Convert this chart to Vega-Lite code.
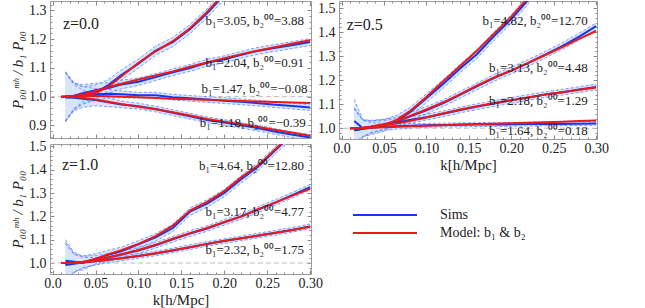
{
  "$schema": "https://vega.github.io/schema/vega-lite/v6.json",
  "background": "white",
  "padding": {"left": 10, "top": 0, "right": 0, "bottom": 0},
  "columns": 2,
  "bounds": "flush",
  "spacing": {"row": 5, "column": 28},
  "config": {
    "view": {"stroke": "#9c9c9c", "strokeWidth": 1},
    "axis": {"labelFont": "Liberation Serif", "labelFontSize": 14, "labelColor": "#222", "titleFont": "Liberation Serif", "titleFontSize": 15, "titleFontWeight": "normal", "titleColor": "#222", "grid": false, "domain": false, "tickColor": "#8a8a8a", "tickSize": -4, "labelPadding": 8, "labelOverlap": false, "labelFlush": false},
    "axisX": {"labelPadding": 6, "titlePadding": 2},
    "legend": {"symbolType": "stroke", "symbolSize": 4096, "symbolStrokeWidth": 2, "clipHeight": 18, "rowPadding": 0, "labelOffset": 22, "labelFont": "Liberation Serif", "labelFontSize": 14, "labelColor": "#222", "padding": 0},
    "text": {"font": "Liberation Serif"}
  },
  "datasets": {
    "curves": [
      {"p":"a","c":1,"k":0.01,"m":1.0},
      {"p":"a","c":1,"k":0.015,"s":0.998,"e":0.085,"m":1.0},
      {"p":"a","c":1,"k":0.025,"s":1.0,"e":0.045,"m":1.001},
      {"p":"a","c":1,"k":0.035,"s":1.004,"e":0.03,"m":1.004},
      {"p":"a","c":1,"k":0.05,"s":1.015,"e":0.025,"m":1.012},
      {"p":"a","c":1,"k":0.065,"s":1.04,"e":0.02,"m":1.035},
      {"p":"a","c":1,"k":0.08,"s":1.075,"e":0.018,"m":1.07},
      {"p":"a","c":1,"k":0.1,"s":1.115,"e":0.016,"m":1.118},
      {"p":"a","c":1,"k":0.12,"s":1.16,"e":0.016,"m":1.158},
      {"p":"a","c":1,"k":0.14,"s":1.19,"e":0.016,"m":1.193},
      {"p":"a","c":1,"k":0.16,"s":1.235,"e":0.016,"m":1.238},
      {"p":"a","c":1,"k":0.18,"s":1.29,"e":0.016,"m":1.295},
      {"p":"a","c":1,"k":0.2,"s":1.355,"e":0.016,"m":1.36},
      {"p":"a","c":1,"k":0.22,"s":1.425,"e":0.016,"m":1.43},

      {"p":"a","c":2,"k":0.01,"m":1.0},
      {"p":"a","c":2,"k":0.015,"s":1.0,"e":0.085,"m":1.0},
      {"p":"a","c":2,"k":0.025,"s":1.003,"e":0.045,"m":1.002},
      {"p":"a","c":2,"k":0.035,"s":1.012,"e":0.03,"m":1.008},
      {"p":"a","c":2,"k":0.05,"s":1.022,"e":0.025,"m":1.02},
      {"p":"a","c":2,"k":0.065,"s":1.03,"e":0.018,"m":1.033},
      {"p":"a","c":2,"k":0.08,"s":1.042,"e":0.015,"m":1.045},
      {"p":"a","c":2,"k":0.1,"s":1.052,"e":0.013,"m":1.06},
      {"p":"a","c":2,"k":0.12,"s":1.068,"e":0.012,"m":1.074},
      {"p":"a","c":2,"k":0.14,"s":1.085,"e":0.012,"m":1.088},
      {"p":"a","c":2,"k":0.16,"s":1.1,"e":0.012,"m":1.104},
      {"p":"a","c":2,"k":0.18,"s":1.118,"e":0.012,"m":1.119},
      {"p":"a","c":2,"k":0.2,"s":1.13,"e":0.012,"m":1.134},
      {"p":"a","c":2,"k":0.22,"s":1.146,"e":0.012,"m":1.148},
      {"p":"a","c":2,"k":0.24,"s":1.16,"e":0.012,"m":1.161},
      {"p":"a","c":2,"k":0.26,"s":1.17,"e":0.012,"m":1.173},
      {"p":"a","c":2,"k":0.28,"s":1.18,"e":0.012,"m":1.185},
      {"p":"a","c":2,"k":0.3,"s":1.19,"e":0.012,"m":1.196},

      {"p":"a","c":3,"k":0.01,"m":1.0},
      {"p":"a","c":3,"k":0.015,"s":1.002,"e":0.085,"m":1.0},
      {"p":"a","c":3,"k":0.025,"s":1.003,"e":0.045,"m":1.001},
      {"p":"a","c":3,"k":0.035,"s":1.005,"e":0.03,"m":1.002},
      {"p":"a","c":3,"k":0.05,"s":1.008,"e":0.02,"m":1.002},
      {"p":"a","c":3,"k":0.065,"s":1.01,"e":0.015,"m":1.001},
      {"p":"a","c":3,"k":0.08,"s":1.008,"e":0.012,"m":1.0},
      {"p":"a","c":3,"k":0.1,"s":1.005,"e":0.01,"m":0.998},
      {"p":"a","c":3,"k":0.12,"s":1.005,"e":0.01,"m":0.995},
      {"p":"a","c":3,"k":0.14,"s":0.998,"e":0.01,"m":0.993},
      {"p":"a","c":3,"k":0.16,"s":0.994,"e":0.01,"m":0.991},
      {"p":"a","c":3,"k":0.18,"s":0.99,"e":0.01,"m":0.989},
      {"p":"a","c":3,"k":0.2,"s":0.986,"e":0.01,"m":0.987},
      {"p":"a","c":3,"k":0.22,"s":0.982,"e":0.01,"m":0.985},
      {"p":"a","c":3,"k":0.24,"s":0.977,"e":0.01,"m":0.983},
      {"p":"a","c":3,"k":0.26,"s":0.972,"e":0.01,"m":0.981},
      {"p":"a","c":3,"k":0.28,"s":0.967,"e":0.01,"m":0.98},
      {"p":"a","c":3,"k":0.3,"s":0.962,"e":0.01,"m":0.978},

      {"p":"a","c":4,"k":0.01,"m":1.0},
      {"p":"a","c":4,"k":0.015,"s":0.997,"e":0.085,"m":1.0},
      {"p":"a","c":4,"k":0.025,"s":0.996,"e":0.045,"m":0.999},
      {"p":"a","c":4,"k":0.035,"s":0.993,"e":0.03,"m":0.996},
      {"p":"a","c":4,"k":0.05,"s":0.988,"e":0.02,"m":0.99},
      {"p":"a","c":4,"k":0.065,"s":0.98,"e":0.015,"m":0.982},
      {"p":"a","c":4,"k":0.08,"s":0.973,"e":0.012,"m":0.974},
      {"p":"a","c":4,"k":0.1,"s":0.967,"e":0.01,"m":0.965},
      {"p":"a","c":4,"k":0.12,"s":0.957,"e":0.01,"m":0.956},
      {"p":"a","c":4,"k":0.14,"s":0.944,"e":0.01,"m":0.946},
      {"p":"a","c":4,"k":0.16,"s":0.932,"e":0.01,"m":0.934},
      {"p":"a","c":4,"k":0.18,"s":0.919,"e":0.01,"m":0.922},
      {"p":"a","c":4,"k":0.2,"s":0.91,"e":0.01,"m":0.913},
      {"p":"a","c":4,"k":0.22,"s":0.9,"e":0.01,"m":0.904},
      {"p":"a","c":4,"k":0.24,"s":0.89,"e":0.01,"m":0.894},
      {"p":"a","c":4,"k":0.26,"s":0.878,"e":0.01,"m":0.884},
      {"p":"a","c":4,"k":0.28,"s":0.867,"e":0.01,"m":0.874},
      {"p":"a","c":4,"k":0.3,"s":0.858,"e":0.01,"m":0.864},

      {"p":"b","c":1,"k":0.01,"m":1.0},
      {"p":"b","c":1,"k":0.015,"s":1.03,"e":0.09,"m":1.0},
      {"p":"b","c":1,"k":0.025,"s":1.0,"e":0.035,"m":1.001},
      {"p":"b","c":1,"k":0.035,"s":1.003,"e":0.03,"m":1.005},
      {"p":"b","c":1,"k":0.05,"s":1.012,"e":0.025,"m":1.013},
      {"p":"b","c":1,"k":0.065,"s":1.032,"e":0.022,"m":1.035},
      {"p":"b","c":1,"k":0.08,"s":1.065,"e":0.02,"m":1.07},
      {"p":"b","c":1,"k":0.1,"s":1.125,"e":0.018,"m":1.13},
      {"p":"b","c":1,"k":0.12,"s":1.185,"e":0.018,"m":1.197},
      {"p":"b","c":1,"k":0.14,"s":1.25,"e":0.018,"m":1.26},
      {"p":"b","c":1,"k":0.16,"s":1.31,"e":0.018,"m":1.325},
      {"p":"b","c":1,"k":0.18,"s":1.385,"e":0.018,"m":1.395},
      {"p":"b","c":1,"k":0.2,"s":1.455,"e":0.018,"m":1.465},
      {"p":"b","c":1,"k":0.22,"s":1.535,"e":0.018,"m":1.545},

      {"p":"b","c":2,"k":0.01,"m":1.0},
      {"p":"b","c":2,"k":0.015,"s":0.995,"e":0.09,"m":1.0},
      {"p":"b","c":2,"k":0.025,"s":1.0,"e":0.035,"m":1.002},
      {"p":"b","c":2,"k":0.035,"s":1.006,"e":0.025,"m":1.007},
      {"p":"b","c":2,"k":0.05,"s":1.016,"e":0.02,"m":1.017},
      {"p":"b","c":2,"k":0.065,"s":1.028,"e":0.018,"m":1.03},
      {"p":"b","c":2,"k":0.08,"s":1.048,"e":0.016,"m":1.05},
      {"p":"b","c":2,"k":0.1,"s":1.075,"e":0.015,"m":1.078},
      {"p":"b","c":2,"k":0.12,"s":1.105,"e":0.014,"m":1.108},
      {"p":"b","c":2,"k":0.14,"s":1.14,"e":0.014,"m":1.142},
      {"p":"b","c":2,"k":0.16,"s":1.175,"e":0.014,"m":1.178},
      {"p":"b","c":2,"k":0.18,"s":1.21,"e":0.014,"m":1.212},
      {"p":"b","c":2,"k":0.2,"s":1.24,"e":0.014,"m":1.24},
      {"p":"b","c":2,"k":0.22,"s":1.272,"e":0.014,"m":1.272},
      {"p":"b","c":2,"k":0.24,"s":1.306,"e":0.014,"m":1.305},
      {"p":"b","c":2,"k":0.26,"s":1.342,"e":0.014,"m":1.338},
      {"p":"b","c":2,"k":0.28,"s":1.382,"e":0.014,"m":1.372},
      {"p":"b","c":2,"k":0.3,"s":1.425,"e":0.014,"m":1.405},

      {"p":"b","c":3,"k":0.01,"m":1.0},
      {"p":"b","c":3,"k":0.015,"s":0.99,"e":0.09,"m":1.0},
      {"p":"b","c":3,"k":0.025,"s":0.998,"e":0.035,"m":1.002},
      {"p":"b","c":3,"k":0.035,"s":1.004,"e":0.025,"m":1.005},
      {"p":"b","c":3,"k":0.05,"s":1.014,"e":0.018,"m":1.012},
      {"p":"b","c":3,"k":0.065,"s":1.024,"e":0.015,"m":1.02},
      {"p":"b","c":3,"k":0.08,"s":1.034,"e":0.013,"m":1.03},
      {"p":"b","c":3,"k":0.1,"s":1.046,"e":0.012,"m":1.045},
      {"p":"b","c":3,"k":0.12,"s":1.06,"e":0.012,"m":1.062},
      {"p":"b","c":3,"k":0.14,"s":1.076,"e":0.012,"m":1.078},
      {"p":"b","c":3,"k":0.16,"s":1.09,"e":0.012,"m":1.092},
      {"p":"b","c":3,"k":0.18,"s":1.103,"e":0.012,"m":1.105},
      {"p":"b","c":3,"k":0.2,"s":1.116,"e":0.012,"m":1.117},
      {"p":"b","c":3,"k":0.22,"s":1.128,"e":0.012,"m":1.128},
      {"p":"b","c":3,"k":0.24,"s":1.14,"e":0.012,"m":1.14},
      {"p":"b","c":3,"k":0.26,"s":1.15,"e":0.012,"m":1.15},
      {"p":"b","c":3,"k":0.28,"s":1.161,"e":0.012,"m":1.16},
      {"p":"b","c":3,"k":0.3,"s":1.172,"e":0.012,"m":1.17},

      {"p":"b","c":4,"k":0.01,"m":1.0},
      {"p":"b","c":4,"k":0.015,"s":0.992,"e":0.09,"m":1.0},
      {"p":"b","c":4,"k":0.025,"s":0.998,"e":0.035,"m":1.001},
      {"p":"b","c":4,"k":0.035,"s":1.002,"e":0.02,"m":1.002},
      {"p":"b","c":4,"k":0.05,"s":1.006,"e":0.015,"m":1.004},
      {"p":"b","c":4,"k":0.065,"s":1.008,"e":0.012,"m":1.006},
      {"p":"b","c":4,"k":0.08,"s":1.01,"e":0.01,"m":1.008},
      {"p":"b","c":4,"k":0.1,"s":1.012,"e":0.008,"m":1.01},
      {"p":"b","c":4,"k":0.12,"s":1.013,"e":0.008,"m":1.012},
      {"p":"b","c":4,"k":0.14,"s":1.014,"e":0.008,"m":1.015},
      {"p":"b","c":4,"k":0.16,"s":1.015,"e":0.008,"m":1.017},
      {"p":"b","c":4,"k":0.18,"s":1.015,"e":0.008,"m":1.019},
      {"p":"b","c":4,"k":0.2,"s":1.016,"e":0.008,"m":1.021},
      {"p":"b","c":4,"k":0.22,"s":1.017,"e":0.008,"m":1.023},
      {"p":"b","c":4,"k":0.24,"s":1.018,"e":0.008,"m":1.025},
      {"p":"b","c":4,"k":0.26,"s":1.018,"e":0.008,"m":1.027},
      {"p":"b","c":4,"k":0.28,"s":1.019,"e":0.008,"m":1.03},
      {"p":"b","c":4,"k":0.3,"s":1.02,"e":0.008,"m":1.032},

      {"p":"c","c":1,"k":0.01,"m":1.0},
      {"p":"c","c":1,"k":0.015,"s":1.01,"e":0.09,"m":1.0},
      {"p":"c","c":1,"k":0.025,"s":1.005,"e":0.04,"m":1.0},
      {"p":"c","c":1,"k":0.035,"s":1.0,"e":0.03,"m":1.003},
      {"p":"c","c":1,"k":0.05,"s":1.018,"e":0.022,"m":1.018},
      {"p":"c","c":1,"k":0.065,"s":1.035,"e":0.02,"m":1.038},
      {"p":"c","c":1,"k":0.08,"s":1.05,"e":0.018,"m":1.055},
      {"p":"c","c":1,"k":0.1,"s":1.08,"e":0.016,"m":1.082},
      {"p":"c","c":1,"k":0.12,"s":1.11,"e":0.016,"m":1.115},
      {"p":"c","c":1,"k":0.14,"s":1.15,"e":0.016,"m":1.16},
      {"p":"c","c":1,"k":0.16,"s":1.22,"e":0.016,"m":1.225},
      {"p":"c","c":1,"k":0.18,"s":1.255,"e":0.016,"m":1.262},
      {"p":"c","c":1,"k":0.2,"s":1.3,"e":0.016,"m":1.308},
      {"p":"c","c":1,"k":0.22,"s":1.36,"e":0.016,"m":1.368},
      {"p":"c","c":1,"k":0.24,"s":1.415,"e":0.016,"m":1.42},
      {"p":"c","c":1,"k":0.26,"s":1.485,"e":0.016,"m":1.49},
      {"p":"c","c":1,"k":0.28,"s":1.555,"e":0.016,"m":1.56},

      {"p":"c","c":2,"k":0.01,"m":1.0},
      {"p":"c","c":2,"k":0.015,"s":0.998,"e":0.09,"m":1.0},
      {"p":"c","c":2,"k":0.025,"s":1.0,"e":0.04,"m":1.001},
      {"p":"c","c":2,"k":0.035,"s":1.004,"e":0.025,"m":1.004},
      {"p":"c","c":2,"k":0.05,"s":1.012,"e":0.02,"m":1.012},
      {"p":"c","c":2,"k":0.065,"s":1.024,"e":0.016,"m":1.025},
      {"p":"c","c":2,"k":0.08,"s":1.036,"e":0.014,"m":1.038},
      {"p":"c","c":2,"k":0.1,"s":1.054,"e":0.013,"m":1.056},
      {"p":"c","c":2,"k":0.12,"s":1.076,"e":0.012,"m":1.078},
      {"p":"c","c":2,"k":0.14,"s":1.102,"e":0.012,"m":1.104},
      {"p":"c","c":2,"k":0.16,"s":1.126,"e":0.012,"m":1.128},
      {"p":"c","c":2,"k":0.18,"s":1.148,"e":0.012,"m":1.15},
      {"p":"c","c":2,"k":0.2,"s":1.174,"e":0.012,"m":1.176},
      {"p":"c","c":2,"k":0.22,"s":1.2,"e":0.012,"m":1.2},
      {"p":"c","c":2,"k":0.24,"s":1.23,"e":0.012,"m":1.232},
      {"p":"c","c":2,"k":0.26,"s":1.26,"e":0.012,"m":1.26},
      {"p":"c","c":2,"k":0.28,"s":1.292,"e":0.012,"m":1.29},
      {"p":"c","c":2,"k":0.3,"s":1.325,"e":0.012,"m":1.318},

      {"p":"c","c":3,"k":0.01,"m":1.0},
      {"p":"c","c":3,"k":0.015,"s":0.992,"e":0.09,"m":1.0},
      {"p":"c","c":3,"k":0.025,"s":0.997,"e":0.04,"m":1.0},
      {"p":"c","c":3,"k":0.035,"s":1.002,"e":0.022,"m":1.003},
      {"p":"c","c":3,"k":0.05,"s":1.008,"e":0.016,"m":1.008},
      {"p":"c","c":3,"k":0.065,"s":1.014,"e":0.013,"m":1.014},
      {"p":"c","c":3,"k":0.08,"s":1.02,"e":0.011,"m":1.02},
      {"p":"c","c":3,"k":0.1,"s":1.03,"e":0.01,"m":1.03},
      {"p":"c","c":3,"k":0.12,"s":1.041,"e":0.01,"m":1.042},
      {"p":"c","c":3,"k":0.14,"s":1.054,"e":0.01,"m":1.055},
      {"p":"c","c":3,"k":0.16,"s":1.068,"e":0.01,"m":1.068},
      {"p":"c","c":3,"k":0.18,"s":1.082,"e":0.01,"m":1.082},
      {"p":"c","c":3,"k":0.2,"s":1.094,"e":0.01,"m":1.095},
      {"p":"c","c":3,"k":0.22,"s":1.106,"e":0.01,"m":1.106},
      {"p":"c","c":3,"k":0.24,"s":1.118,"e":0.01,"m":1.118},
      {"p":"c","c":3,"k":0.26,"s":1.13,"e":0.01,"m":1.13},
      {"p":"c","c":3,"k":0.28,"s":1.143,"e":0.01,"m":1.142},
      {"p":"c","c":3,"k":0.3,"s":1.157,"e":0.01,"m":1.155}
    ],
    "labels": [
      {"p":"a","k":0.293,"v":1.263,"t":"b₁=3.05,  b₂⁰⁰=3.88"},
      {"p":"a","k":0.293,"v":1.117,"t":"b₁=2.04,  b₂⁰⁰=0.91"},
      {"p":"a","k":0.297,"v":1.027,"t":"b₁=1.47,  b₂⁰⁰=−0.08"},
      {"p":"a","k":0.295,"v":0.909,"t":"b₁=1.18,  b₂⁰⁰=−0.39"},
      {"p":"b","k":0.29,"v":1.446,"t":"b₁=4.82,  b₂⁰⁰=12.70"},
      {"p":"b","k":0.29,"v":1.25,"t":"b₁=3.13,  b₂⁰⁰=4.48"},
      {"p":"b","k":0.29,"v":1.1125,"t":"b₁=2.18,  b₂⁰⁰=1.29"},
      {"p":"b","k":0.29,"v":0.9875,"t":"b₁=1.64,  b₂⁰⁰=0.18"},
      {"p":"c","k":0.293,"v":1.415,"t":"b₁=4.64,  b₂⁰⁰=12.80"},
      {"p":"c","k":0.293,"v":1.22,"t":"b₁=3.17,  b₂⁰⁰=4.77"},
      {"p":"c","k":0.293,"v":1.057,"t":"b₁=2.32,  b₂⁰⁰=1.75"}
    ],
    "ztitles": [
      {"p":"a","k":0.012,"v":1.252,"t":"z=0.0"},
      {"p":"b","k":0.006,"v":1.432,"t":"z=0.5"},
      {"p":"c","k":0.011,"v":1.418,"t":"z=1.0"}
    ]
  },
  "concat": [
    {
      "width": 261, "height": 137,
      "resolve": {"axis": {"x": "independent", "y": "independent"}},
      "layer": [
        {"data": {"values": [{}]}, "mark": {"type": "rule", "color": "#bdbdbd", "strokeDash": [5, 3], "strokeWidth": 1}, "encoding": {"y": {"datum": 1, "type": "quantitative", "axis": null}}},
        {"data": {"name": "curves"}, "transform": [{"filter": "datum.p == 'a' && isValid(datum.s)"}],
         "mark": {"type": "errorband", "clip": true, "band": {"color": "#d8e5f9", "opacity": 1}, "borders": {"color": "#6482ff", "strokeDash": [3, 2], "strokeWidth": 0.8}},
         "encoding": {
           "x": {"field": "k", "type": "quantitative", "scale": {"domain": [-0.003, 0.301], "nice": false, "zero": false}, "axis": {"orient": "bottom", "values": [0, 0.05, 0.1, 0.15, 0.2, 0.25, 0.3], "labels": false, "title": null}},
           "y": {"field": "s", "type": "quantitative", "scale": {"domain": [0.856, 1.333], "nice": false, "zero": false}, "axis": {"orient": "left", "values": [0.9, 1.0, 1.1, 1.2, 1.3], "format": ".1f", "title": "P₀₀ᵐʰ / b₁ P₀₀", "titleFontStyle": "italic", "titlePadding": 3}},
           "yError": {"field": "e"},
           "detail": {"field": "c", "type": "nominal"}
         }},
        {"data": {"name": "curves"}, "transform": [{"filter": "datum.p == 'a' && isValid(datum.s)"}],
         "mark": {"type": "line", "clip": true, "strokeWidth": 2},
         "encoding": {
           "x": {"field": "k", "type": "quantitative", "axis": {"orient": "bottom", "values": [0.01,0.02,0.03,0.04,0.06,0.07,0.08,0.09,0.11,0.12,0.13,0.14,0.16,0.17,0.18,0.19,0.21,0.22,0.23,0.24,0.26,0.27,0.28,0.29], "labels": false, "title": null, "tickSize": -2}},
           "y": {"field": "s", "type": "quantitative", "axis": {"orient": "left", "values": [0.86,0.88,0.92,0.94,0.96,0.98,1.02,1.04,1.06,1.08,1.12,1.14,1.16,1.18,1.22,1.24,1.26,1.28,1.32], "labels": false, "title": null, "tickSize": -2}},
           "detail": {"field": "c", "type": "nominal"},
           "color": {"datum": "Sims", "type": "nominal", "scale": {"domain": ["Sims", "Model: b₁ & b₂"], "range": ["#1438ee", "#ea1a1a"]}, "legend": {"orient": "none", "legendX": 302, "legendY": 205, "title": null}}
         }},
        {"data": {"name": "curves"}, "transform": [{"filter": "datum.p == 'a'"}],
         "mark": {"type": "line", "clip": true, "strokeWidth": 2},
         "encoding": {
           "x": {"field": "k", "type": "quantitative", "axis": {"orient": "top", "values": [0, 0.05, 0.1, 0.15, 0.2, 0.25, 0.3], "labels": false, "title": null}},
           "y": {"field": "m", "type": "quantitative", "axis": {"orient": "right", "values": [0.9, 1.0, 1.1, 1.2, 1.3], "labels": false, "title": null}},
           "detail": {"field": "c", "type": "nominal"},
           "color": {"datum": "Model: b₁ & b₂", "type": "nominal", "legend": {"orient": "none", "legendX": 302, "legendY": 205, "title": null}}
         }},
        {"data": {"name": "labels"}, "transform": [{"filter": "datum.p == 'a'"}],
         "mark": {"type": "text", "align": "right", "baseline": "middle", "fontSize": 13, "color": "#222"},
         "encoding": {
           "x": {"field": "k", "type": "quantitative", "axis": {"orient": "top", "values": [0.01,0.02,0.03,0.04,0.06,0.07,0.08,0.09,0.11,0.12,0.13,0.14,0.16,0.17,0.18,0.19,0.21,0.22,0.23,0.24,0.26,0.27,0.28,0.29], "labels": false, "title": null, "tickSize": -2}},
           "y": {"field": "v", "type": "quantitative", "axis": {"orient": "right", "values": [0.86,0.88,0.92,0.94,0.96,0.98,1.02,1.04,1.06,1.08,1.12,1.14,1.16,1.18,1.22,1.24,1.26,1.28,1.32], "labels": false, "title": null, "tickSize": -2}},
           "text": {"field": "t"}}},
        {"data": {"name": "ztitles"}, "transform": [{"filter": "datum.p == 'a'"}],
         "mark": {"type": "text", "align": "left", "baseline": "middle", "fontSize": 16, "color": "#222"},
         "encoding": {"x": {"field": "k", "type": "quantitative", "axis": null}, "y": {"field": "v", "type": "quantitative", "axis": null}, "text": {"field": "t"}}}
      ]
    },
    {
      "width": 258, "height": 138,
      "resolve": {"axis": {"x": "independent", "y": "independent"}},
      "layer": [
        {"data": {"values": [{}]}, "mark": {"type": "rule", "color": "#bdbdbd", "strokeDash": [5, 3], "strokeWidth": 1}, "encoding": {"y": {"datum": 1, "type": "quantitative", "axis": null}}},
        {"data": {"name": "curves"}, "transform": [{"filter": "datum.p == 'b' && isValid(datum.s)"}],
         "mark": {"type": "errorband", "clip": true, "band": {"color": "#d8e5f9", "opacity": 1}, "borders": {"color": "#6482ff", "strokeDash": [3, 2], "strokeWidth": 0.8}},
         "encoding": {
           "x": {"field": "k", "type": "quantitative", "scale": {"domain": [-0.003, 0.301], "nice": false, "zero": false}, "axis": {"orient": "bottom", "values": [0, 0.05, 0.1, 0.15, 0.2, 0.25, 0.3], "labelExpr": "datum.value == 0 ? '0.0' : format(datum.value, '.2f')", "title": "k[h/Mpc]"}},
           "y": {"field": "s", "type": "quantitative", "scale": {"domain": [0.955, 1.53], "nice": false, "zero": false}, "axis": {"orient": "left", "values": [1.0, 1.1, 1.2, 1.3, 1.4, 1.5], "format": ".1f", "title": null}},
           "yError": {"field": "e"},
           "detail": {"field": "c", "type": "nominal"}
         }},
        {"data": {"name": "curves"}, "transform": [{"filter": "datum.p == 'b' && isValid(datum.s)"}],
         "mark": {"type": "line", "clip": true, "strokeWidth": 2},
         "encoding": {
           "x": {"field": "k", "type": "quantitative", "axis": {"orient": "bottom", "values": [0.01,0.02,0.03,0.04,0.06,0.07,0.08,0.09,0.11,0.12,0.13,0.14,0.16,0.17,0.18,0.19,0.21,0.22,0.23,0.24,0.26,0.27,0.28,0.29], "labels": false, "title": null, "tickSize": -2}},
           "y": {"field": "s", "type": "quantitative", "axis": {"orient": "left", "values": [0.96,0.98,1.02,1.04,1.06,1.08,1.12,1.14,1.16,1.18,1.22,1.24,1.26,1.28,1.32,1.34,1.36,1.38,1.42,1.44,1.46,1.48,1.52], "labels": false, "title": null, "tickSize": -2}},
           "detail": {"field": "c", "type": "nominal"},
           "color": {"datum": "Sims", "type": "nominal", "legend": {"orient": "none", "legendX": 302, "legendY": 205, "title": null}}
         }},
        {"data": {"name": "curves"}, "transform": [{"filter": "datum.p == 'b'"}],
         "mark": {"type": "line", "clip": true, "strokeWidth": 2},
         "encoding": {
           "x": {"field": "k", "type": "quantitative", "axis": {"orient": "top", "values": [0, 0.05, 0.1, 0.15, 0.2, 0.25, 0.3], "labels": false, "title": null}},
           "y": {"field": "m", "type": "quantitative", "axis": {"orient": "right", "values": [1.0, 1.1, 1.2, 1.3, 1.4, 1.5], "labels": false, "title": null}},
           "detail": {"field": "c", "type": "nominal"},
           "color": {"datum": "Model: b₁ & b₂", "type": "nominal", "legend": {"orient": "none", "legendX": 302, "legendY": 205, "title": null}}
         }},
        {"data": {"name": "labels"}, "transform": [{"filter": "datum.p == 'b'"}],
         "mark": {"type": "text", "align": "right", "baseline": "middle", "fontSize": 13, "color": "#222"},
         "encoding": {
           "x": {"field": "k", "type": "quantitative", "axis": {"orient": "top", "values": [0.01,0.02,0.03,0.04,0.06,0.07,0.08,0.09,0.11,0.12,0.13,0.14,0.16,0.17,0.18,0.19,0.21,0.22,0.23,0.24,0.26,0.27,0.28,0.29], "labels": false, "title": null, "tickSize": -2}},
           "y": {"field": "v", "type": "quantitative", "axis": {"orient": "right", "values": [0.96,0.98,1.02,1.04,1.06,1.08,1.12,1.14,1.16,1.18,1.22,1.24,1.26,1.28,1.32,1.34,1.36,1.38,1.42,1.44,1.46,1.48,1.52], "labels": false, "title": null, "tickSize": -2}},
           "text": {"field": "t"}}},
        {"data": {"name": "ztitles"}, "transform": [{"filter": "datum.p == 'b'"}],
         "mark": {"type": "text", "align": "left", "baseline": "middle", "fontSize": 16, "color": "#222"},
         "encoding": {"x": {"field": "k", "type": "quantitative", "axis": null}, "y": {"field": "v", "type": "quantitative", "axis": null}, "text": {"field": "t"}}}
      ]
    },
    {
      "width": 261, "height": 130,
      "resolve": {"axis": {"x": "independent", "y": "independent"}},
      "layer": [
        {"data": {"values": [{}]}, "mark": {"type": "rule", "color": "#bdbdbd", "strokeDash": [5, 3], "strokeWidth": 1}, "encoding": {"y": {"datum": 1, "type": "quantitative", "axis": null}}},
        {"data": {"name": "curves"}, "transform": [{"filter": "datum.p == 'c' && isValid(datum.s)"}],
         "mark": {"type": "errorband", "clip": true, "band": {"color": "#d8e5f9", "opacity": 1}, "borders": {"color": "#6482ff", "strokeDash": [3, 2], "strokeWidth": 0.8}},
         "encoding": {
           "x": {"field": "k", "type": "quantitative", "scale": {"domain": [-0.003, 0.301], "nice": false, "zero": false}, "axis": {"orient": "bottom", "values": [0, 0.05, 0.1, 0.15, 0.2, 0.25, 0.3], "labelExpr": "datum.value == 0 ? '0.0' : format(datum.value, '.2f')", "title": "k[h/Mpc]"}},
           "y": {"field": "s", "type": "quantitative", "scale": {"domain": [0.953, 1.51], "nice": false, "zero": false}, "axis": {"orient": "left", "values": [1.0, 1.1, 1.2, 1.3, 1.4, 1.5], "format": ".1f", "title": "P₀₀ᵐʰ / b₁ P₀₀", "titleFontStyle": "italic", "titlePadding": 3}},
           "yError": {"field": "e"},
           "detail": {"field": "c", "type": "nominal"}
         }},
        {"data": {"name": "curves"}, "transform": [{"filter": "datum.p == 'c' && isValid(datum.s)"}],
         "mark": {"type": "line", "clip": true, "strokeWidth": 2},
         "encoding": {
           "x": {"field": "k", "type": "quantitative", "axis": {"orient": "bottom", "values": [0.01,0.02,0.03,0.04,0.06,0.07,0.08,0.09,0.11,0.12,0.13,0.14,0.16,0.17,0.18,0.19,0.21,0.22,0.23,0.24,0.26,0.27,0.28,0.29], "labels": false, "title": null, "tickSize": -2}},
           "y": {"field": "s", "type": "quantitative", "axis": {"orient": "left", "values": [0.96,0.98,1.02,1.04,1.06,1.08,1.12,1.14,1.16,1.18,1.22,1.24,1.26,1.28,1.32,1.34,1.36,1.38,1.42,1.44,1.46,1.48], "labels": false, "title": null, "tickSize": -2}},
           "detail": {"field": "c", "type": "nominal"},
           "color": {"datum": "Sims", "type": "nominal", "legend": {"orient": "none", "legendX": 302, "legendY": 205, "title": null}}
         }},
        {"data": {"name": "curves"}, "transform": [{"filter": "datum.p == 'c'"}],
         "mark": {"type": "line", "clip": true, "strokeWidth": 2},
         "encoding": {
           "x": {"field": "k", "type": "quantitative", "axis": {"orient": "top", "values": [0, 0.05, 0.1, 0.15, 0.2, 0.25, 0.3], "labels": false, "title": null}},
           "y": {"field": "m", "type": "quantitative", "axis": {"orient": "right", "values": [1.0, 1.1, 1.2, 1.3, 1.4, 1.5], "labels": false, "title": null}},
           "detail": {"field": "c", "type": "nominal"},
           "color": {"datum": "Model: b₁ & b₂", "type": "nominal", "legend": {"orient": "none", "legendX": 302, "legendY": 205, "title": null}}
         }},
        {"data": {"name": "labels"}, "transform": [{"filter": "datum.p == 'c'"}],
         "mark": {"type": "text", "align": "right", "baseline": "middle", "fontSize": 13, "color": "#222"},
         "encoding": {
           "x": {"field": "k", "type": "quantitative", "axis": {"orient": "top", "values": [0.01,0.02,0.03,0.04,0.06,0.07,0.08,0.09,0.11,0.12,0.13,0.14,0.16,0.17,0.18,0.19,0.21,0.22,0.23,0.24,0.26,0.27,0.28,0.29], "labels": false, "title": null, "tickSize": -2}},
           "y": {"field": "v", "type": "quantitative", "axis": {"orient": "right", "values": [0.96,0.98,1.02,1.04,1.06,1.08,1.12,1.14,1.16,1.18,1.22,1.24,1.26,1.28,1.32,1.34,1.36,1.38,1.42,1.44,1.46,1.48], "labels": false, "title": null, "tickSize": -2}},
           "text": {"field": "t"}}},
        {"data": {"name": "ztitles"}, "transform": [{"filter": "datum.p == 'c'"}],
         "mark": {"type": "text", "align": "left", "baseline": "middle", "fontSize": 16, "color": "#222"},
         "encoding": {"x": {"field": "k", "type": "quantitative", "axis": null}, "y": {"field": "v", "type": "quantitative", "axis": null}, "text": {"field": "t"}}}
      ]
    }
  ]
}
